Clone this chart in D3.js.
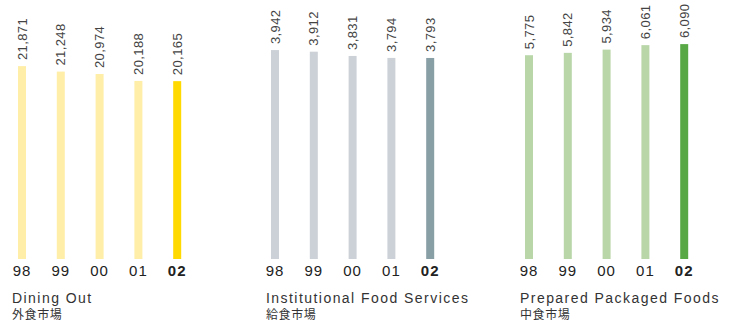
<!DOCTYPE html>
<html>
<head>
<meta charset="utf-8">
<script src="https://cdn.jsdelivr.net/npm/d3@7"></script>
<style>
  body { margin: 0; background: #fff; }
  svg { display: block; }
</style>
</head>
<body>
<script>
// years and the three market series
var years = ["98", "99", "00", "01", "02"];
var diningOut = [21871, 21248, 20974, 20188, 20165];
var institutional = [3942, 3912, 3831, 3794, 3793];
var prepared = [5775, 5842, 5934, 6061, 6090];

var titlesEn = ["Dining Out", "Institutional Food Services", "Prepared Packaged Foods"];
var titlesJa = ["外食市場", "給食市場", "中食市場"];

var w = 731, h = 324;
var svg = d3.select("body").append("svg").attr("width", w).attr("height", h);

var panels = [
  { values: diningOut, x0: 12, c0: 22, light: "#FFEEA8", dark: "#FFD900", dmax: 25000, px: 220.5 },
  { values: institutional, x0: 266, c0: 275, light: "#CCD1D8", dark: "#889FA6", dmax: 4000, px: 212 },
  { values: prepared, x0: 520, c0: 529, light: "#B9D6A9", dark: "#58A946", dmax: 7000, px: 247 }
];

var base = 259;

panels.forEach(function (p, k) {
  var g = svg.append("g");
  var x = d3.scalePoint().domain(years).range([p.c0, p.c0 + 4 * 38.8]);
  var y = d3.scaleLinear().domain([0, p.dmax]).range([base, base - p.px]);
  var bw = 8;

  g.selectAll("rect")
    .data(p.values)
    .enter()
    .append("rect")
    .attr("x", function (d, i) { return x(years[i]) - bw / 2; })
    .attr("width", bw)
    .attr("y", function (d) { return y(d); })
    .attr("height", function (d) { return base - y(d); })
    .style("fill", function (d, i) { return i == years.length - 1 ? p.dark : p.light; });

  // value labels, rotated
  g.selectAll("text.val")
    .data(p.values)
    .enter()
    .append("text")
    .attr("class", "val")
    .attr("transform", function (d, i) {
      return "translate(" + (x(years[i]) + 4.5) + "," + (y(d) - 6) + ") rotate(-90)";
    })
    .text(function (d) { return d3.format(",")(d); })
    .attr("font-family", "Liberation Sans, Arial, sans-serif")
    .attr("font-size", "13px")
    .attr("letter-spacing", "0.4px")
    .attr("fill", "#444");

  // year ticks
  g.selectAll("text.yr")
    .data(years)
    .enter()
    .append("text")
    .attr("class", "yr")
    .attr("x", function (d) { return x(d); })
    .attr("y", 276)
    .attr("text-anchor", "middle")
    .text(function (d) { return d; })
    .attr("font-family", "Liberation Sans, Arial, sans-serif")
    .attr("font-size", "15px")
    .attr("letter-spacing", "1px")
    .attr("font-weight", function (d, i) { return i == years.length - 1 ? "bold" : "normal"; })
    .attr("fill", "#222");

  g.append("text")
    .attr("x", p.x0)
    .attr("y", 303)
    .text(titlesEn[k])
    .attr("font-family", "Liberation Sans, Arial, sans-serif")
    .attr("font-size", "14px")
    .attr("letter-spacing", "1.45px")
    .attr("fill", "#333");

  g.append("text")
    .attr("x", p.x0)
    .attr("y", 319)
    .text(titlesJa[k])
    .attr("font-family", "Noto Sans CJK JP, sans-serif")
    .attr("font-size", "12px")
    .attr("letter-spacing", "0.6px")
    .attr("fill", "#333");
});
</script>
</body>
</html>
